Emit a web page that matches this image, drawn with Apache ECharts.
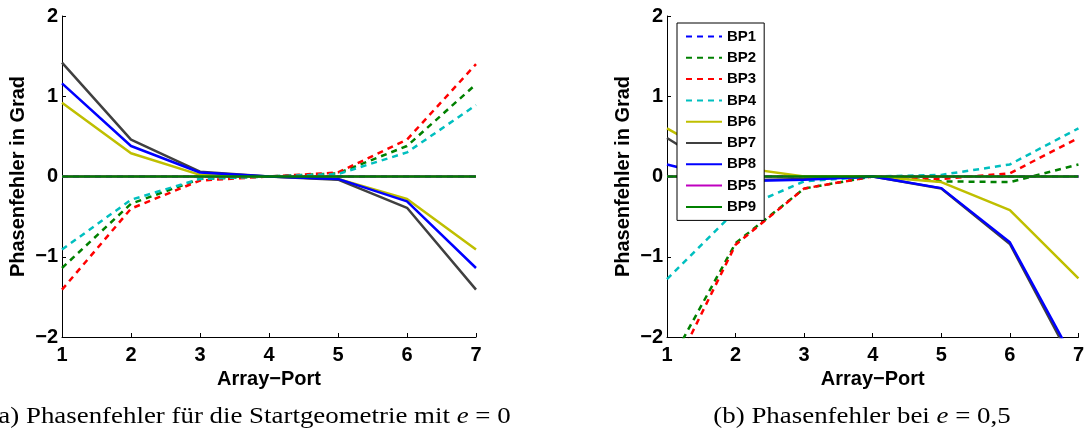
<!DOCTYPE html>
<html>
<head>
<meta charset="utf-8">
<script src="https://cdn.jsdelivr.net/npm/echarts@6/dist/echarts.min.js"></script>
<style>
html,body{margin:0;padding:0;background:#fff;}
#c{width:1087px;height:430px;}
</style>
</head>
<body>
<div id="c"></div>
<script>
// ---- data ----
const ports = [1, 2, 3, 4, 5, 6, 7];
const legendOrder = ['BP1', 'BP2', 'BP3', 'BP4', 'BP6', 'BP7', 'BP8', 'BP5', 'BP9'];
const drawOrder = ['BP1', 'BP2', 'BP3', 'BP4', 'BP5', 'BP6', 'BP7', 'BP8', 'BP9'];

// (a) e = 0
const a_BP1 = [0, 0, 0, 0, 0, 0, 0];
const a_BP2 = [-1.14, -0.34, -0.03, 0, 0.04, 0.38, 1.15];
const a_BP3 = [-1.41, -0.40, -0.05, 0, 0.05, 0.46, 1.40];
const a_BP4 = [-0.91, -0.29, -0.03, 0, 0.03, 0.30, 0.89];
const a_BP5 = [0, 0, 0, 0, 0, 0, 0];
const a_BP6 = [0.92, 0.29, 0.02, 0, -0.03, -0.28, -0.91];
const a_BP7 = [1.42, 0.46, 0.06, 0, -0.04, -0.39, -1.41];
const a_BP8 = [1.16, 0.38, 0.05, 0, -0.03, -0.31, -1.14];
const a_BP9 = [0, 0, 0, 0, 0, 0, 0];

// (b) e = 0,5
const b_BP1 = [0, 0, 0, 0, 0, 0, 0];
const b_BP2 = [-2.39, -0.83, -0.15, 0, -0.06, -0.07, 0.15];
const b_BP3 = [-2.58, -0.85, -0.15, 0, -0.03, 0.04, 0.48];
const b_BP4 = [-1.28, -0.43, -0.06, 0, 0.02, 0.15, 0.60];
const b_BP5 = [0, 0, 0, 0, 0, 0, 0];
const b_BP6 = [0.60, 0.12, 0.00, 0, -0.07, -0.42, -1.27];
const b_BP7 = [0.48, -0.05, -0.03, 0, -0.15, -0.84, -2.45];
const b_BP8 = [0.15, -0.06, -0.04, 0, -0.145, -0.82, -2.39];
const b_BP9 = [0, 0, 0, 0, 0, 0, 0];

const xTitle = 'Array\u2212Port';
const yTitle = 'Phasenfehler in Grad';
const captionA = '(a) Phasenfehler für die Startgeometrie mit {i|e} = 0';
const captionB = '(b) Phasenfehler bei {i|e} = 0,5';

// ---- styles ----
const styles = {
  BP1: {color: '#0000ff', type: [6, 5]},
  BP2: {color: '#008000', type: [6, 5]},
  BP3: {color: '#ff0000', type: [6, 5]},
  BP4: {color: '#00bfbf', type: [6, 5]},
  BP5: {color: '#bf00bf', type: 'solid'},
  BP6: {color: '#bfbf00', type: 'solid'},
  BP7: {color: '#404040', type: 'solid'},
  BP8: {color: '#0000ff', type: 'solid'},
  BP9: {color: '#008000', type: 'solid'}
};
const dataA = {BP1: a_BP1, BP2: a_BP2, BP3: a_BP3, BP4: a_BP4, BP5: a_BP5, BP6: a_BP6, BP7: a_BP7, BP8: a_BP8, BP9: a_BP9};
const dataB = {BP1: b_BP1, BP2: b_BP2, BP3: b_BP3, BP4: b_BP4, BP5: b_BP5, BP6: b_BP6, BP7: b_BP7, BP8: b_BP8, BP9: b_BP9};

const SANS = '"Liberation Sans", Arial, Helvetica, sans-serif';
const SERIF = '"Liberation Serif", "Times New Roman", serif';

function fmt(v) { return v < 0 ? '\u2212' + Math.abs(v) : String(v); }

function xAx(gi) {
  return {
    type: 'value', gridIndex: gi, min: 1, max: 7, interval: 1,
    name: xTitle, nameLocation: 'middle', nameGap: 26,
    nameTextStyle: {fontFamily: SANS, fontWeight: 'bold', fontSize: 20, color: '#000'},
    axisLine: {show: true, onZero: false, lineStyle: {color: '#000', width: 1}},
    axisTick: {show: true, inside: true, length: 4, lineStyle: {color: '#000'}},
    axisLabel: {margin: 8, fontFamily: SANS, fontWeight: 'bold', fontSize: 20, color: '#000', formatter: fmt},
    splitLine: {show: false}
  };
}
function yAx(gi) {
  return {
    type: 'value', gridIndex: gi, min: -2, max: 2, interval: 1,
    name: yTitle, nameLocation: 'middle', nameGap: 34, nameRotate: 90,
    nameTextStyle: {fontFamily: SANS, fontWeight: 'bold', fontSize: 20, color: '#000'},
    axisLine: {show: true, onZero: false, lineStyle: {color: '#000', width: 1}},
    axisTick: {show: true, inside: true, length: 4, lineStyle: {color: '#000'}},
    axisLabel: {margin: 4, fontFamily: SANS, fontWeight: 'bold', fontSize: 20, color: '#000', formatter: fmt},
    splitLine: {show: false}
  };
}

const series = [];
[dataA, dataB].forEach(function (d, gi) {
  drawOrder.forEach(function (name) {
    series.push({
      type: 'line', name: name, xAxisIndex: gi, yAxisIndex: gi,
      data: ports.map(function (p, i) { return [p, d[name][i]]; }),
      symbol: 'none', showSymbol: false, clip: true,
      itemStyle: {color: styles[name].color},
      lineStyle: {color: styles[name].color, width: 2.5, type: styles[name].type}
    });
  });
});

const chart = echarts.init(document.getElementById('c'), null, {renderer: 'canvas'});
chart.setOption({
  animation: false,
  backgroundColor: '#fff',
  grid: [
    {left: 62, top: 16, width: 414, height: 321},
    {left: 667, top: 16, width: 414, height: 321}
  ],
  xAxis: [xAx(0), xAx(1)],
  yAxis: [yAx(0), yAx(1)],
  legend: {
    data: legendOrder, orient: 'vertical', left: 677, top: 23,
    selectedMode: false,
    itemWidth: 36, itemHeight: 14, itemGap: 6.3,
    padding: [6, 8, 6, 8],
    backgroundColor: '#fff', borderColor: '#000', borderWidth: 1,
    itemStyle: {opacity: 0, borderWidth: 0},
    lineStyle: {opacity: 1},
    textStyle: {fontFamily: SANS, fontWeight: 'bold', fontSize: 15, color: '#000', padding: [0, 0, 0, 0]},
    z: 10
  },
  graphic: [
    {type: 'text', x: 250, y: 417, scaleX: 1.12, scaleY: 1,
     style: {text: captionA, align: 'center', verticalAlign: 'middle',
       fontFamily: SERIF, fontSize: 24, fill: '#000',
       rich: {i: {fontFamily: SERIF, fontSize: 24, fontStyle: 'italic', fill: '#000'}}}},
    {type: 'text', x: 862, y: 417, scaleX: 1.12, scaleY: 1,
     style: {text: captionB, align: 'center', verticalAlign: 'middle',
       fontFamily: SERIF, fontSize: 24, fill: '#000',
       rich: {i: {fontFamily: SERIF, fontSize: 24, fontStyle: 'italic', fill: '#000'}}}}
  ],
  series: series
});
</script>
</body>
</html>
